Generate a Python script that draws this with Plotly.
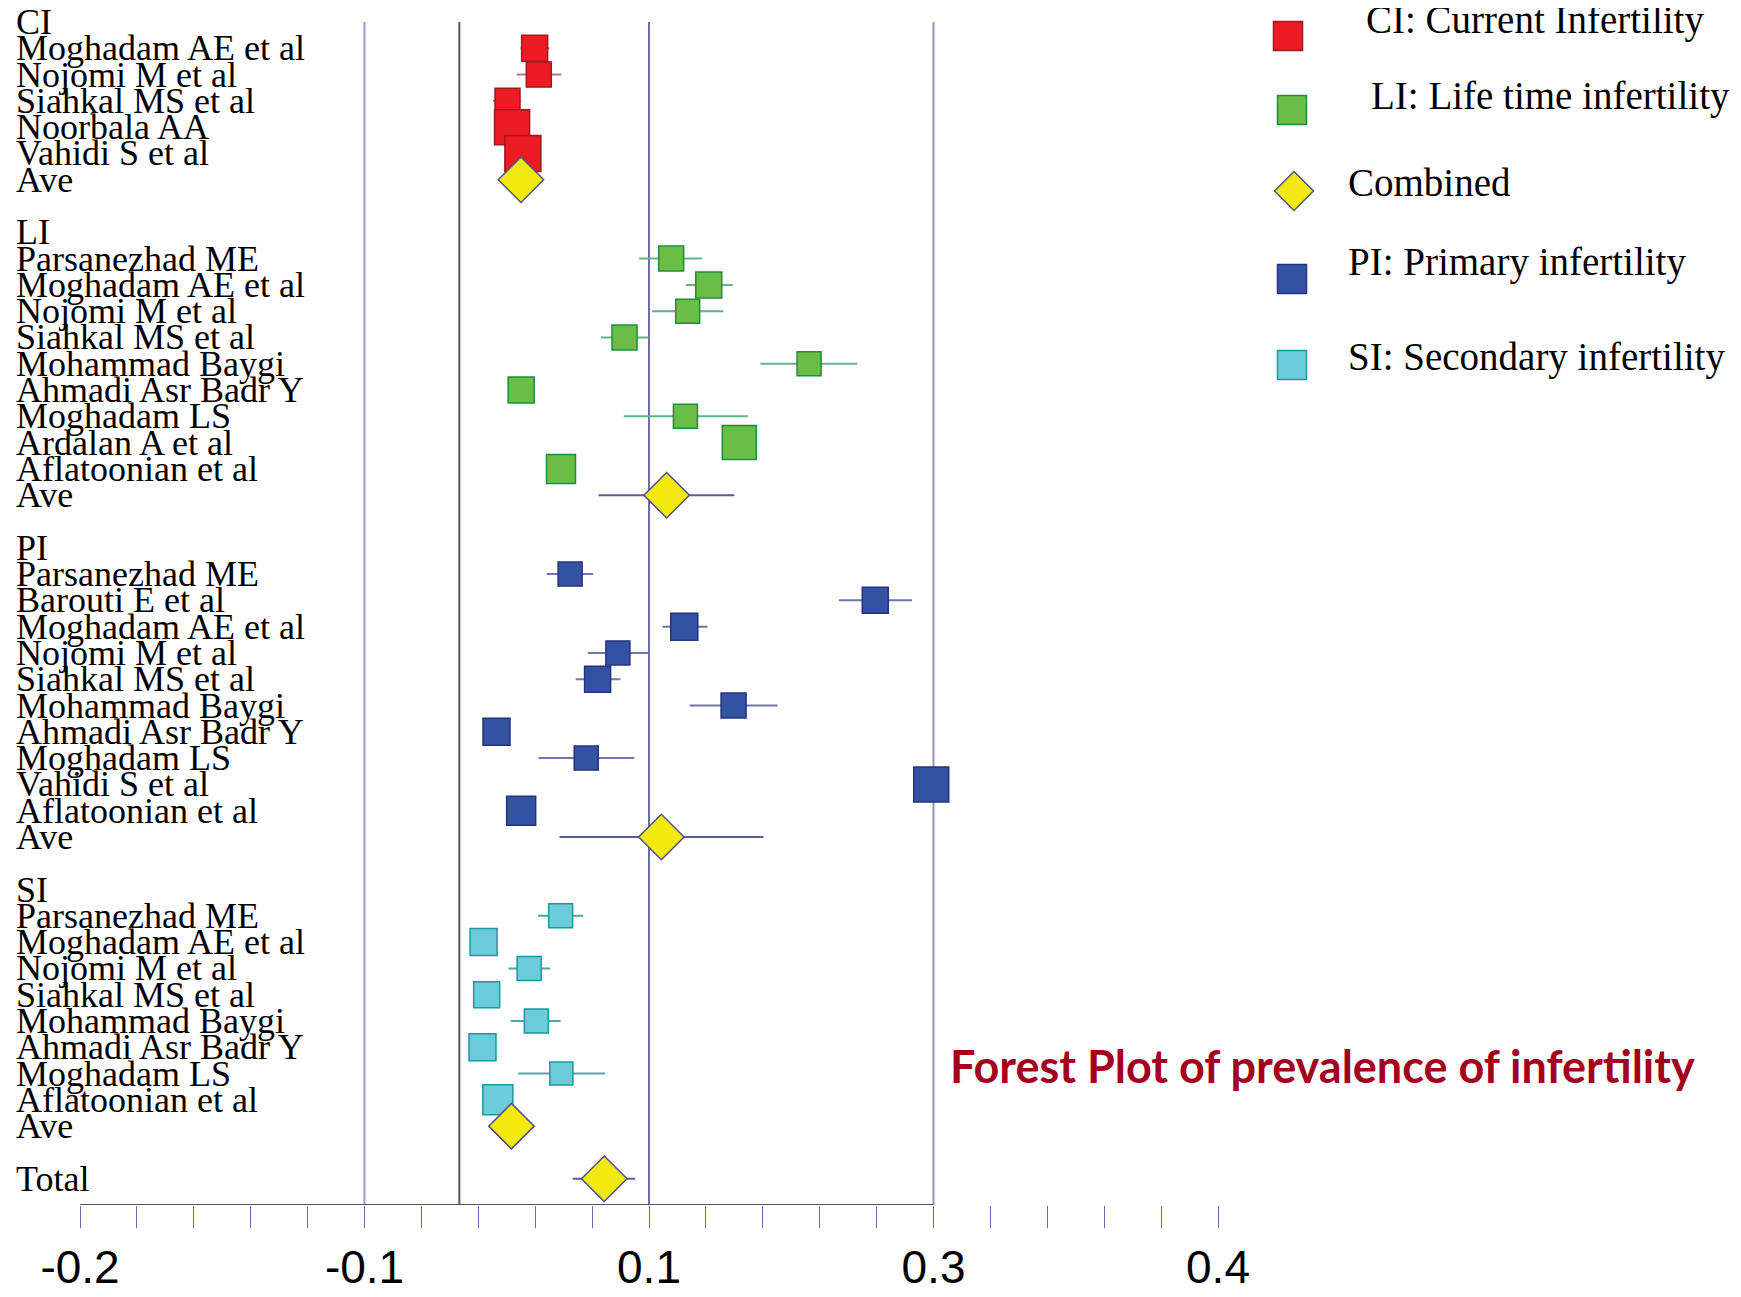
import plotly.graph_objects as go

W, H = 1741, 1297          # browser window
OFF = 8                    # default body margin of the html page
FW, FH = W - OFF, H - OFF  # figure size so that the page fits the window

# ---------------- data ----------------
ci_studies = ["Moghadam AE et al", "Nojomi M et al", "Siahkal MS et al", "Noorbala AA", "Vahidi S et al"]
ci_est = [0.0397, 0.0419, 0.0254, 0.0278, 0.0335]
ci_lo = [0.0323, 0.0302, 0.0177, None, None]
ci_hi = [0.0474, 0.0538, 0.0326, None, None]
ci_weight = [26, 25, 25, 35, 36]
ci_ave = [0.0325, None, None]

li_studies = ["Parsanezhad ME", "Moghadam AE et al", "Nojomi M et al", "Siahkal MS et al",
              "Mohammad Baygi", "Ahmadi Asr Badr Y", "Moghadam LS", "Ardalan A et al", "Aflatoonian et al"]
li_est = [0.1117, 0.1315, 0.1204, 0.0871, 0.1844, 0.0326, 0.1192, 0.1476, 0.0536]
li_lo = [0.0948, 0.1194, 0.1016, 0.0746, 0.1588, None, 0.0867, None, None]
li_hi = [0.1279, 0.1442, 0.1392, 0.0998, 0.2098, None, 0.1521, None, None]
li_weight = [25, 26, 24, 25, 24, 26, 24, 34, 29]
li_ave = [0.1093, 0.0734, 0.1450]

pi_studies = ["Parsanezhad ME", "Barouti E et al", "Moghadam AE et al", "Nojomi M et al", "Siahkal MS et al",
              "Mohammad Baygi", "Ahmadi Asr Badr Y", "Moghadam LS", "Vahidi S et al", "Aflatoonian et al"]
pi_est = [0.0584, 0.2193, 0.1186, 0.0836, 0.0729, 0.1446, 0.0196, 0.0669, 0.2488, 0.0326]
pi_lo = [0.0461, 0.2001, 0.1071, 0.0677, 0.0614, 0.1214, None, 0.0417, None, None]
pi_hi = [0.0705, 0.2387, 0.1309, 0.1000, 0.0849, 0.1678, None, 0.0923, None, None]
pi_weight = [24, 26, 27, 24, 26, 25, 27, 24, 35, 29]
pi_ave = [0.1065, 0.0528, 0.1604]

si_studies = ["Parsanezhad ME", "Moghadam AE et al", "Nojomi M et al", "Siahkal MS et al",
              "Mohammad Baygi", "Ahmadi Asr Badr Y", "Moghadam LS", "Aflatoonian et al"]
si_est = [0.0534, 0.0128, 0.0368, 0.0144, 0.0406, 0.0122, 0.0538, 0.0203]
si_lo = [0.0414, None, 0.0259, None, 0.0271, None, 0.0310, None]
si_hi = [0.0653, None, 0.0479, None, 0.0534, None, 0.0768, None]
si_weight = [24, 27, 24, 26, 24, 27, 23, 30]
si_ave = [0.0275, None, None]

total = [0.0764, 0.0598, 0.0927]

tick_major_vals = [-0.2, -0.05, 0.1, 0.25, 0.4]
tick_major_text = ["-0.2", "-0.1", "0.1", "0.3", "0.4"]
ref_lines = [-0.05, 0.1, 0.25]
null_line = 0.0

legend_items = ["CI: Current Infertility", "LI: Life time infertility", "Combined",
                "PI: Primary infertility", "SI: Secondary infertility"]

# ---------------- styles ----------------
groups = [
    ("CI", ci_studies, ci_est, ci_lo, ci_hi, ci_weight, ci_ave, "#ED1C24", "#A3171D", "#C5707A"),
    ("LI", li_studies, li_est, li_lo, li_hi, li_weight, li_ave, "#6ABD45", "#1E8E3E", "#5FB389"),
    ("PI", pi_studies, pi_est, pi_lo, pi_hi, pi_weight, pi_ave, "#3452A3", "#24337F", "#7075AE"),
    ("SI", si_studies, si_est, si_lo, si_hi, si_weight, si_ave, "#6DCBDB", "#1B9A9C", "#48AAAA"),
]
YEL, YEL_LINE, DIA_ERR = "#F2EA0C", "#4F4F8F", "#5A5A9E"
DIA_SIZE = 35
SERIF = "Liberation Serif, Times New Roman, serif"


def err(est, lo, hi):
    plus = [(h - e) if h is not None else 0 for e, h in zip(est, hi)]
    minus = [(e - l) if l is not None else 0 for e, l in zip(est, lo)]
    return plus, minus


fig = go.Figure()
annotations = []
row = 0
dia_x, dia_y, dia_lo, dia_hi = [], [], [], []

for name, studies, est, lo, hi, wt, ave, fill, edge, ecol in groups:
    annotations.append((row, name))
    row += 1
    rows = list(range(row, row + len(studies)))
    for r, s in zip(rows, studies):
        annotations.append((r, s))
    row += len(studies)
    plus, minus = err(est, lo, hi)
    fig.add_trace(go.Scatter(
        x=est, y=rows, mode="markers",
        marker=dict(symbol="square", size=wt, color=fill, opacity=1,
                    line=dict(color=edge, width=1.5)),
        error_x=dict(type="data", array=plus, arrayminus=minus, color=ecol, thickness=2, width=0),
        hoverinfo="x+y", showlegend=False))
    annotations.append((row, "Ave"))
    dia_x.append(ave[0]); dia_y.append(row)
    dia_lo.append(ave[1]); dia_hi.append(ave[2])
    row += 2

annotations.append((row, "Total"))
dia_x.append(total[0]); dia_y.append(row)
dia_lo.append(total[1]); dia_hi.append(total[2])
n_rows = row + 1

plus, minus = err(dia_x, dia_lo, dia_hi)
fig.add_trace(go.Scatter(
    x=dia_x, y=dia_y, mode="markers",
    marker=dict(symbol="diamond", size=DIA_SIZE, color=YEL, opacity=1,
                line=dict(color=YEL_LINE, width=1.5)),
    error_x=dict(type="data", array=plus, arrayminus=minus, color=DIA_ERR, thickness=2, width=0),
    showlegend=False))

# ---------------- legend (overlay axes in page pixel units) ----------------
leg_sym = ["square", "square", "diamond", "square", "square"]
leg_fill = ["#ED1C24", "#6ABD45", YEL, "#3452A3", "#6DCBDB"]
leg_edge = ["#A3171D", "#1E8E3E", YEL_LINE, "#24337F", "#1B9A9C"]
leg_size = [29, 29, 30, 29, 29]
leg_mx = [1288, 1292, 1294, 1292, 1292]
leg_my = [36, 110, 191, 279, 365]
leg_tx = [1364, 1369, 1346, 1346, 1346]
leg_ty = [19, 95, 181, 261, 356]

fig.add_trace(go.Scatter(
    x=leg_mx, y=leg_my, xaxis="x2", yaxis="y2", mode="markers",
    marker=dict(symbol=leg_sym, size=leg_size, color=leg_fill, opacity=1,
                line=dict(color=leg_edge, width=1.5)),
    hoverinfo="skip", showlegend=False))

ann = []
for r, t in annotations:
    ann.append(dict(x=14, y=r, xref="x2", yref="y", text=t, showarrow=False,
                    xanchor="left", yanchor="middle",
                    font=dict(family=SERIF, size=36, color="black")))
for t, x, y in zip(legend_items, leg_tx, leg_ty):
    ann.append(dict(x=x, y=y + 1, xref="x2", yref="y2", text=t, showarrow=False,
                    xanchor="left", yanchor="middle",
                    font=dict(family=SERIF, size=39, color="black")))
ann.append(dict(x=1322, y=1066, xref="x2", yref="y2",
                text="<b>Forest Plot of prevalence of infertility</b>", showarrow=False,
                xanchor="center", yanchor="middle",
                font=dict(family="Lato, Open Sans, sans-serif", size=45, color="#A3001E")))

# ---------------- shapes: reference lines and axis line ----------------
shapes = []
for v, c in zip(ref_lines, ["#9A9AC8", "#6B6BAD", "#9494C2"]):
    shapes.append(dict(type="line", xref="x", yref="y", x0=v, x1=v, y0=0, y1=n_rows,
                       line=dict(color=c, width=2), layer="below"))
shapes.append(dict(type="line", xref="x", yref="y", x0=null_line, x1=null_line, y0=0, y1=n_rows,
                   line=dict(color="#555555", width=2), layer="below"))
shapes.append(dict(type="line", xref="x", yref="y", x0=tick_major_vals[0], x1=tick_major_vals[3],
                   y0=n_rows, y1=n_rows, line=dict(color="#555555", width=2)))

# ticks: 4 minor intervals between labelled majors
tickvals, ticktext = [], []
for i in range(len(tick_major_vals) - 1):
    a, b = tick_major_vals[i], tick_major_vals[i + 1]
    for k in range(5):
        tickvals.append(a + (b - a) * k / 5)
        ticktext.append(tick_major_text[i] if k == 0 else "")
tickvals.append(tick_major_vals[-1]); ticktext.append(tick_major_text[-1])

# page-pixel geometry of the plotting area
x_left, x_right = 80, 1218
top_px, bot_px = 22, 1205


def fx(p):
    return (p - OFF) / FW


def fy(p):
    return 1 - (p - OFF) / FH


fig.update_layout(
    width=FW, height=FH, autosize=False,
    margin=dict(l=0, r=0, t=0, b=0, pad=0, autoexpand=False),
    paper_bgcolor="white", plot_bgcolor="rgba(0,0,0,0)",
    showlegend=False,
    xaxis=dict(domain=[fx(x_left), fx(x_right)], range=[-0.2, 0.4], showgrid=False, zeroline=False,
               showline=False, ticks="outside", ticklen=22, tickwidth=1, tickcolor="#6A6AA8",
               tickmode="array", tickvals=tickvals, ticktext=ticktext, ticklabelstandoff=0,
               tickfont=dict(family="Liberation Sans, Arial, sans-serif", size=46, color="black"),
               anchor="y", automargin=False),
    yaxis=dict(domain=[fy(bot_px), fy(top_px)], range=[n_rows, 0], showgrid=False,
               zeroline=False, showline=False, showticklabels=False, ticks="", anchor="x",
               automargin=False),
    xaxis2=dict(domain=[0, 1], range=[OFF, OFF + FW], visible=False, anchor="y2", automargin=False),
    yaxis2=dict(domain=[0, 1], range=[OFF + FH, OFF], visible=False, anchor="x2", automargin=False),
    annotations=ann, shapes=shapes,
)

fig.write_html("out.html")
